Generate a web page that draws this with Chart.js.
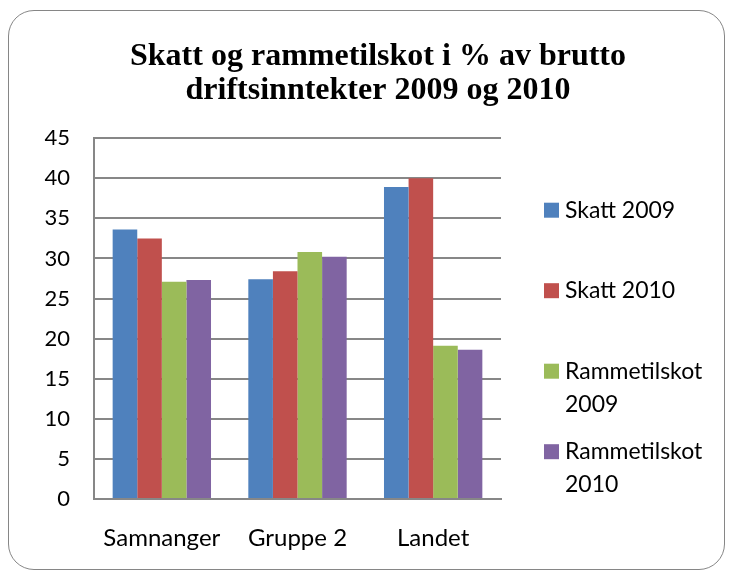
<!DOCTYPE html>
<html>
<head>
<meta charset="utf-8">
<script src="https://cdn.jsdelivr.net/npm/chart.js@4.4.1/dist/chart.umd.min.js"></script>
<style>
  html, body { margin: 0; padding: 0; background: #fff; }
  #wrap { position: relative; width: 733px; height: 578px; }
  #frame {
    position: absolute; left: 8px; top: 10px; width: 715px; height: 558px;
    border: 1.5px solid #868686; border-radius: 26px; pointer-events: none;
  }
</style>
</head>
<body>
<div id="wrap">
  <canvas id="chart" width="733" height="578"></canvas>
  <div id="frame"></div>
</div>
<script>
var categories = ['Samnanger', 'Gruppe 2', 'Landet'];
var seriesNames = [['Skatt 2009'], ['Skatt 2010'], ['Rammetilskot', '2009'], ['Rammetilskot', '2010']];
var skatt2009 = [33.6, 27.4, 38.9];
var skatt2010 = [32.5, 28.4, 40.0];
var ramme2009 = [27.1, 30.8, 19.1];
var ramme2010 = [27.3, 30.2, 18.6];
var yTicks = [0, 5, 10, 15, 20, 25, 30, 35, 40, 45];
var colors = ['#4F81BD', '#C0504D', '#9BBB59', '#8064A2'];

var gridColor = '#878787';
var labelFont = 'Lato, "Open Sans", sans-serif';

// legend drawn in its own layout box on the right, so the title still spans the full width
var sideLegend = {
    id: 'sideLegend',
    beforeInit: function (chart) {
        var box = {
            position: 'right',
            weight: 10,
            fullSize: false,
            options: {},
            isHorizontal: function () { return false; },
            update: function (maxWidth, maxHeight) {
                this.width = 232;
                this.height = maxHeight;
            },
            draw: function () {
                var ctx = chart.ctx;
                var area = chart.chartArea;
                ctx.save();
                ctx.font = '23px ' + labelFont;
                ctx.textBaseline = 'middle';
                ctx.textAlign = 'left';
                chart.data.datasets.forEach(function (ds, i) {
                    var y = area.top + 72 + i * 80.5;
                    ctx.fillStyle = ds.backgroundColor;
                    ctx.fillRect(this.left + 43, y - 7.5, 15, 15);
                    ctx.fillStyle = '#000';
                    seriesNames[i].forEach(function (line, j) {
                        ctx.fillText(line, this.left + 64, y + j * 33);
                    }, this);
                }, this);
                ctx.restore();
            }
        };
        Chart.layouts.addBox(chart, box);
    }
};

var values = [skatt2009, skatt2010, ramme2009, ramme2010];

var chart = new Chart(document.getElementById('chart'), {
    type: 'bar',
    data: {
        labels: categories,
        datasets: values.map(function (v, i) {
            return {
                label: seriesNames[i].join(' '),
                data: v,
                backgroundColor: colors[i],
                borderWidth: 0,
                categoryPercentage: 0.725,
                barPercentage: 1
            };
        })
    },
    plugins: [sideLegend],
    options: {
        responsive: false,
        animation: false,
        layout: { padding: { left: 23, right: 0, top: 10, bottom: 20 } },
        plugins: {
            legend: { display: false },
            tooltip: { enabled: false },
            title: {
                display: true,
                text: ['Skatt og rammetilskot i % av brutto', 'driftsinntekter 2009 og 2010'],
                color: '#000',
                font: { family: '"Liberation Serif", "Times New Roman", serif', size: 32, weight: 'bold', lineHeight: 1.05 },
                padding: { top: 30, bottom: 31 }
            }
        },
        scales: {
            x: {
                grid: { display: false, drawTicks: false },
                border: { display: true, color: gridColor, width: 2 },
                ticks: { color: '#000', font: { family: labelFont, size: 24 }, padding: 25 },
                afterFit: function (scale) { scale.height = 59; }
            },
            y: {
                min: 0,
                max: 45,
                afterBuildTicks: function (scale) {
                    scale.ticks = yTicks.map(function (v) { return { value: v }; });
                },
                grid: { color: gridColor, lineWidth: 2, drawTicks: false },
                border: { display: true, color: gridColor, width: 2 },
                ticks: { color: '#000', font: { family: labelFont, size: 22 }, padding: 24 },
                afterFit: function (scale) { scale.width = 71; }
            }
        }
    }
});
</script>
</body>
</html>
